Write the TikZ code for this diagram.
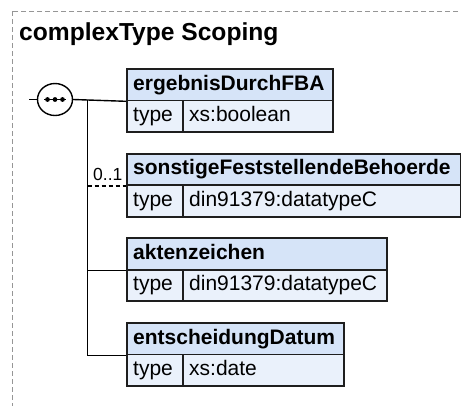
\documentclass[tikz,border=0pt]{standalone}
\usepackage{fontspec}
\usetikzlibrary{shapes.geometric}
\setmainfont{Liberation Sans}
\definecolor{hdrfill}{RGB}{214,228,248}
\definecolor{rowfill}{RGB}{234,241,251}
\definecolor{boxline}{RGB}{30,30,30}
\definecolor{frameline}{RGB}{150,150,150}
\tikzset{
  cell/.style={draw=boxline, line width=1.8pt, inner sep=0pt, anchor=north west, minimum height=31.5pt},
  hdr/.style={cell, fill=hdrfill},
  rowc/.style={cell, fill=rowfill},
  namelbl/.style={anchor=base west, inner sep=0pt, font=\bfseries\fontsize{21}{25}\selectfont},
  vallbl/.style={anchor=base west, inner sep=0pt, font=\fontsize{21}{25}\selectfont},
  conn/.style={line width=1.4pt, black},
}
\begin{document}
\begin{tikzpicture}[x=1pt,y=-1pt]
\useasboundingbox (0,0) rectangle (461,405);
\clip (0,0) rectangle (461,405);
% frame
\draw[frameline, line width=1pt, dash pattern=on 5pt off 3pt] (12,11) rectangle (480,430);
\node[anchor=base west, inner sep=0pt, font=\bfseries\fontsize{24.6}{28}\selectfont] (title) at (19,40) {complexType Scoping};

% box 1
\node[hdr, minimum width=206pt] (b1h) at (126,68) {};
\node[rowc, minimum width=56pt] (b1t) at (126,99.5) {};
\node[rowc, minimum width=150pt] (b1v) at (182,99.5) {};
\node[namelbl] (b1n) at (133,90) {ergebnisDurchFBA};
\node[vallbl] (b1tl) at (133,121.5) {type};
\node[vallbl] (b1vl) at (189,121.5) {xs:boolean};

% box 2
\node[hdr, minimum width=334pt] (b2h) at (126,152.7) {};
\node[rowc, minimum width=56pt] (b2t) at (126,184.2) {};
\node[rowc, minimum width=278pt] (b2v) at (182,184.2) {};
\node[namelbl] (b2n) at (133,174.7) {sonstigeFeststellendeBehoerde};
\node[vallbl] (b2tl) at (133,206.2) {type};
\node[vallbl] (b2vl) at (189,206.2) {din91379:datatypeC};

% box 3
\node[hdr, minimum width=260pt] (b3h) at (126,237.3) {};
\node[rowc, minimum width=56pt] (b3t) at (126,268.8) {};
\node[rowc, minimum width=204pt] (b3v) at (182,268.8) {};
\node[namelbl] (b3n) at (133,259.3) {aktenzeichen};
\node[vallbl] (b3tl) at (133,290.8) {type};
\node[vallbl] (b3vl) at (189,290.8) {din91379:datatypeC};

% box 4
\node[hdr, minimum width=217pt] (b4h) at (126,322) {};
\node[rowc, minimum width=56pt] (b4t) at (126,353.5) {};
\node[rowc, minimum width=161pt] (b4v) at (182,353.5) {};
\node[namelbl] (b4n) at (133,344) {entscheidungDatum};
\node[vallbl] (b4tl) at (133,375.5) {type};
\node[vallbl] (b4vl) at (189,375.5) {xs:date};

% sequence compositor
\node[draw=black, line width=1.4pt, ellipse, minimum width=35pt, minimum height=32pt, inner sep=0pt, fill=white] (seq) at (55,99.5) {};
\coordinate (in) at (29,99.5);
\coordinate (v) at (87.5,99.5);
\draw[conn] (in) -- (seq.west);
\draw[conn] (seq.east) -- (b1h.south west);
\draw[conn] (v) |- (b4h.south west);
\draw[conn] (v |- b3h.south west) -- (b3h.south west);
\draw[conn, dash pattern=on 4pt off 3pt] (v |- b2h.south west) -- (b2h.south west);
\node[anchor=base west, inner sep=0pt, font=\fontsize{17.5}{20}\selectfont] (mult) at (93,180.5) {0..1};
% dots
\coordinate (d0) at (44,99.5);
\coordinate (d4) at (66,99.5);
\draw[line width=1.4pt] (d0) -- (d4);
\fill (47.5,99.5) circle (2.4pt) (55,99.5) circle (2.4pt) (62.5,99.5) circle (2.4pt);
\end{tikzpicture}
\end{document}
